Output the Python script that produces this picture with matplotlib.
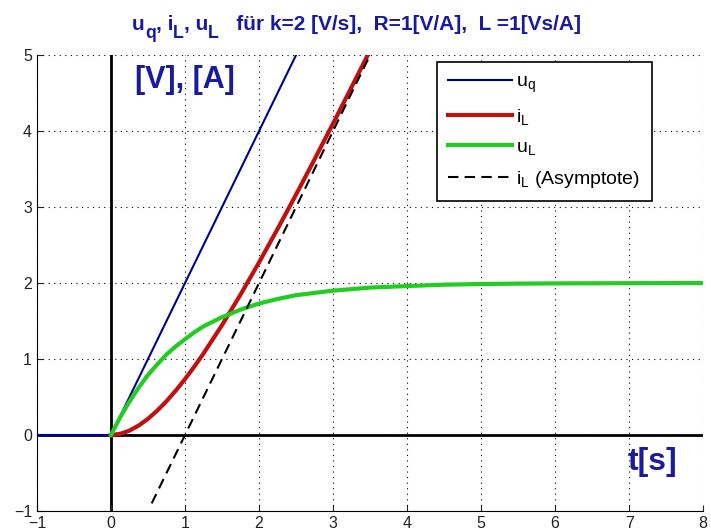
import matplotlib.pyplot as plt

plt.rcParams['font.family'] = ['Liberation Sans', 'DejaVu Sans']
plt.rcParams['mathtext.fontset'] = 'custom'
plt.rcParams['mathtext.rm'] = 'Liberation Sans'

# Werte
t_uq = [-1, 0, 8]
uq = [0, 0, 16]

t_iL = [0, 0.125, 0.25, 0.375, 0.5, 0.625, 0.75, 0.875, 1, 1.125, 1.25, 1.5, 1.75, 2,
        2.25, 2.5, 2.75, 3, 3.25, 3.5]
iL = [0, 0.015, 0.058, 0.125, 0.213, 0.321, 0.445, 0.584, 0.736, 0.899, 1.073, 1.446, 1.848, 2.271,
      2.711, 3.164, 3.628, 4.10, 4.578, 5.06]

t_uL = [0, 0.125, 0.25, 0.375, 0.5, 0.625, 0.75, 0.875, 1, 1.125, 1.25, 1.5, 1.75, 2,
        2.25, 2.5, 2.75, 3, 3.25, 3.5, 4, 4.5, 5, 5.5, 6, 7, 8]
uL = [0, 0.235, 0.44, 0.625, 0.79, 0.929, 1.06, 1.166, 1.26, 1.351, 1.43, 1.55, 1.65, 1.73,
      1.79, 1.84, 1.87, 1.90, 1.92, 1.94, 1.96, 1.978, 1.987, 1.992, 1.995, 1.998, 2.0]

t_asym = [0.55, 3.5]
asym = [-0.9, 5.0]

titel = [('u', 0), ('q', 1), (', i', 0), ('L', 1), (', u', 0), ('L', 1),
         ('   für k=2 [V/s],  R=1[V/A],  L =1[Vs/A]', 0)]

blau = '#1a1aa0'

fig = plt.figure(figsize=(7.11, 5.32), dpi=100)
ax = fig.add_axes([0.052, 0.0395, 0.937, 0.857])

ax.axhline(0, color='black', lw=2, zorder=1)
ax.axvline(0, color='black', lw=2, zorder=1)

ax.plot(t_uq, uq, color='#000090', lw=1.5, label=r'$\mathrm{u_q}$', zorder=3)
ax.plot(t_iL, iL, color='#c01010', lw=3, label=r'$\mathrm{i_L}$', zorder=4)
ax.plot(t_uL, uL, color='#22cc22', lw=3, label=r'$\mathrm{u_L}$', zorder=5)
ax.plot(t_asym, asym, color='black', lw=1.5, ls=(0, (5, 3)), label=r'$\mathrm{i_L}$ (Asymptote)', zorder=6)

ax.set_xlim(-1, 8)
ax.set_ylim(-1, 5)
ax.set_xticks(range(-1, 9))
ax.set_yticks(range(-1, 6))
ax.grid(True, color='black', ls=(0, (1, 4)), lw=0.8)
ax.tick_params(labelsize=11.5, direction='in', length=4, colors='#222222')
ax.spines['top'].set_visible(False)
ax.spines['right'].set_visible(False)

ax.text(0.33, 4.87, '[V], [A]', color=blau, fontsize=22, fontweight='bold', va='top')
ax.text(7.31, -0.36, 't[s]', color=blau, fontsize=23, fontweight='bold', ha='center', va='center')

leg = ax.legend(loc='upper right', bbox_to_anchor=(0.923, 0.985), borderaxespad=0,
                fontsize=14, handlelength=3.3, handletextpad=0.2, labelspacing=0.6,
                borderpad=0.6, fancybox=False, framealpha=1, edgecolor='black')
leg.get_frame().set_linewidth(1.2)

# Titel mit tiefgestellten Indizes, Stueck fuer Stueck
renderer = fig.canvas.get_renderer()
groesse = 15
stuecke = []
x = 0
for s, sub in titel:
    fs = groesse * 0.85 if sub else groesse
    dy = -groesse * 0.4 / 72 if sub else 0
    txt = fig.text(x, 5.02 + dy, s, fontsize=fs, color=blau, fontweight='bold',
                   va='baseline', transform=fig.dpi_scale_trans)
    w = txt.get_window_extent(renderer).width / fig.dpi
    stuecke.append(txt)
    x += w
start = 1.28 + (4.57 - x) / 2
for txt in stuecke:
    px, py = txt.get_position()
    txt.set_position((px + start, py))

fig.savefig('out.png', dpi=100)
